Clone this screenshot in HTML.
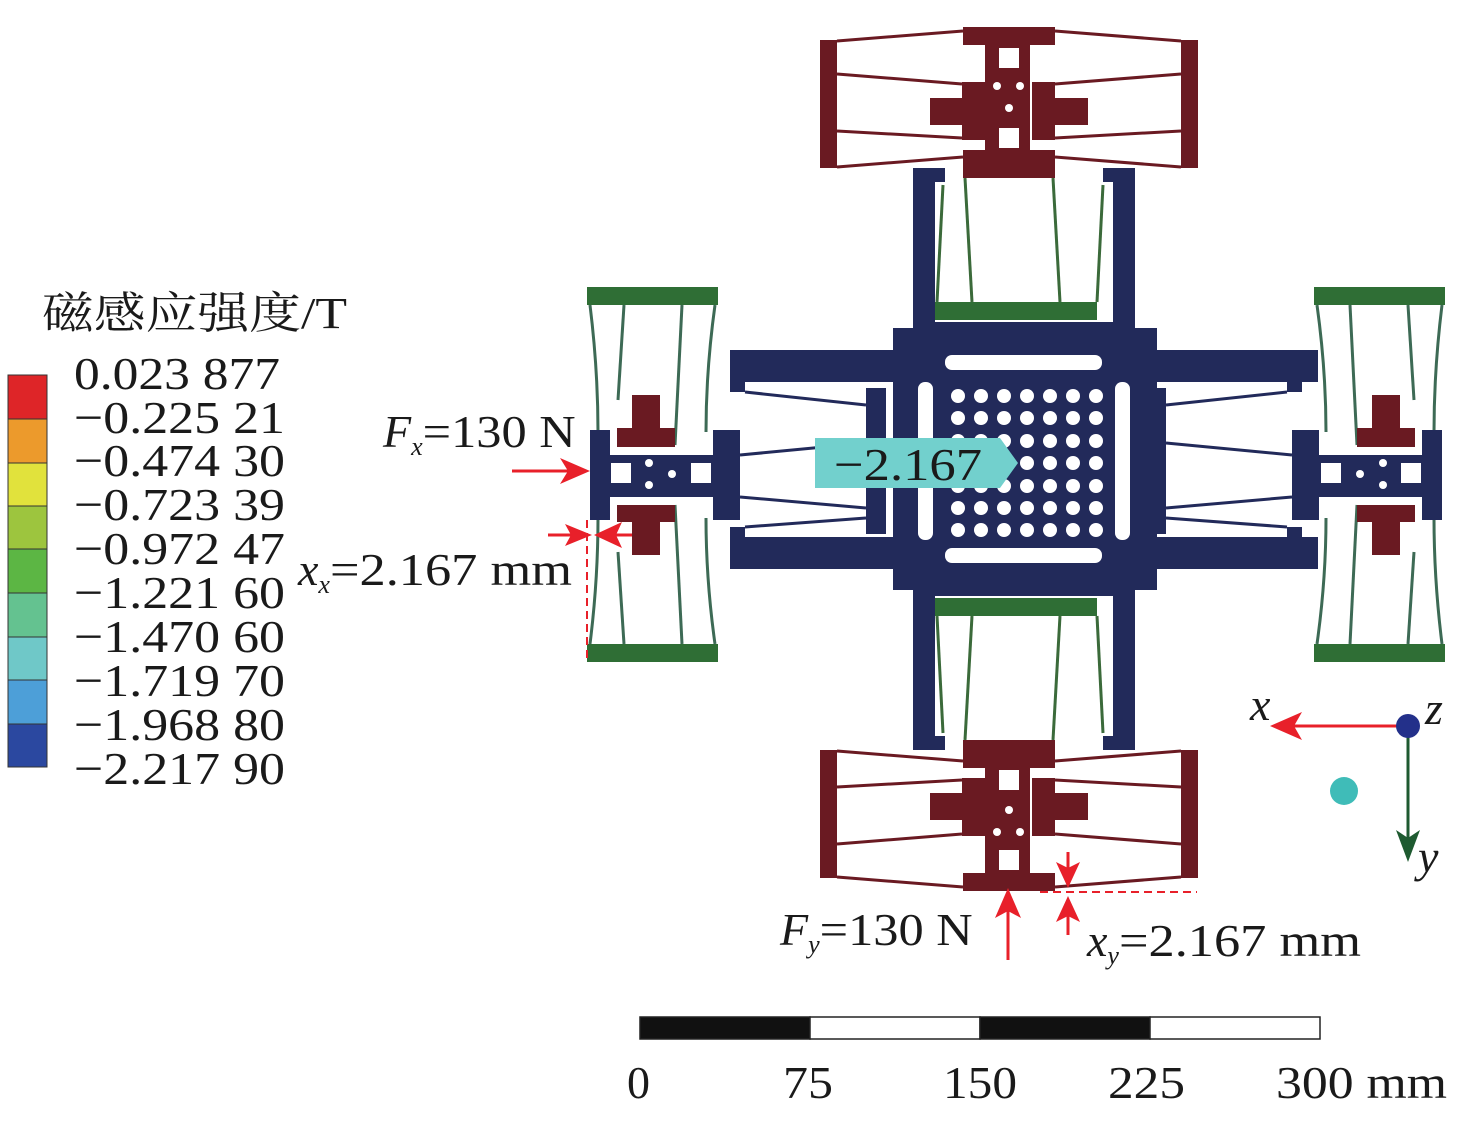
<!DOCTYPE html>
<html><head><meta charset="utf-8"><style>
body{margin:0;background:#fff;}
svg{display:block;}
text{font-family:"Liberation Serif","Noto Serif CJK SC",serif;fill:#1a1a1a;}
</style></head><body>
<svg width="1476" height="1122" viewBox="0 0 1476 1122" xmlns="http://www.w3.org/2000/svg">
<defs>
<g id="topmod">
  <path d="M913 168 H945 V182 H935 V322 H1113 V182 H1103 V168 H1135 V328 H913 Z" fill="#222a5a"/>
  <rect x="935" y="302" width="162" height="18" fill="#2f6e35"/>
  <g stroke="#3b6a3a" stroke-width="3" fill="none">
    <line x1="965" y1="178" x2="972" y2="302"/>
    <line x1="1053" y1="178" x2="1060" y2="302"/>
    <line x1="943" y1="185" x2="937" y2="302"/>
    <line x1="1103" y1="185" x2="1097" y2="302"/>
  </g>
  <g fill="#6a1a22">
    <rect x="820" y="40" width="17" height="128"/>
    <rect x="1181" y="40" width="17" height="128"/>
    <rect x="963" y="27" width="92" height="18"/>
    <rect x="963" y="150" width="92" height="28"/>
    <rect x="985" y="45" width="45" height="105"/>
    <path d="M962 82 H985 V140 H962 V125 H930 V98 H962 Z"/>
    <path d="M1055 82 H1032 V140 H1055 V125 H1088 V98 H1055 Z"/>
  </g>
  <g fill="#fff">
    <rect x="999" y="48" width="20" height="20"/>
    <rect x="999" y="128" width="20" height="20"/>
    <circle cx="997" cy="86" r="4"/><circle cx="1020" cy="86" r="4"/><circle cx="1009" cy="108" r="4"/>
  </g>
  <g stroke="#6a1a22" stroke-width="3" fill="none">
    <line x1="837" y1="41" x2="963" y2="31"/>
    <line x1="837" y1="74" x2="962" y2="84"/>
    <line x1="837" y1="131" x2="962" y2="138"/>
    <line x1="837" y1="167" x2="963" y2="157"/>
    <line x1="1181" y1="41" x2="1055" y2="31"/>
    <line x1="1181" y1="74" x2="1055" y2="84"/>
    <line x1="1181" y1="131" x2="1055" y2="138"/>
    <line x1="1181" y1="167" x2="1055" y2="157"/>
  </g>
</g>
<g id="leftmod">
  <path d="M730 350 H893 V382 H745 V392 H730 Z" fill="#222a5a"/>
  <path d="M730 569 H893 V537 H745 V527 H730 Z" fill="#222a5a"/>
  <rect x="866" y="388" width="20" height="146" fill="#222a5a"/>
  <g stroke="#222a5a" stroke-width="3" fill="none">
    <line x1="745" y1="392" x2="866" y2="405"/>
    <line x1="740" y1="455" x2="866" y2="443"/>
    <line x1="740" y1="497" x2="866" y2="508"/>
    <line x1="745" y1="527" x2="866" y2="518"/>
  </g>
  <rect x="587" y="287" width="131" height="18" fill="#2f6e35"/>
  <rect x="587" y="644" width="131" height="18" fill="#2f6e35"/>
  <g stroke="#3d6a55" stroke-width="3" fill="none">
    <path d="M590 305 Q598 370 598 432"/>
    <path d="M715 305 Q706 370 706 432"/>
    <line x1="624" y1="305" x2="618" y2="400"/>
    <line x1="682" y1="305" x2="675" y2="445"/>
    <path d="M590 644 Q598 580 598 518"/>
    <path d="M715 644 Q706 580 706 518"/>
    <line x1="624" y1="644" x2="618" y2="552"/>
    <line x1="682" y1="644" x2="675" y2="505"/>
  </g>
  <g fill="#222a5a">
    <rect x="590" y="430" width="20" height="90"/>
    <rect x="713" y="430" width="27" height="90"/>
    <rect x="590" y="455" width="150" height="42"/>
  </g>
  <g fill="#fff">
    <rect x="611" y="463" width="20" height="20"/>
    <rect x="691" y="463" width="20" height="20"/>
    <circle cx="649" cy="463" r="4"/><circle cx="649" cy="485" r="4"/><circle cx="672" cy="474" r="4"/>
  </g>
  <path d="M632 395 H660 V428 H675 V447 H617 V428 H632 Z" fill="#6a1a22"/>
  <path d="M617 505 H675 V522 H660 V555 H632 V522 H617 Z" fill="#6a1a22"/>
</g>
</defs>

<rect x="893" y="328" width="264" height="262" fill="#222a5a"/>
<g fill="#222a5a">
  <rect x="1157" y="350" width="161" height="32"/>
  <rect x="1157" y="537" width="161" height="32"/>
</g>
<g fill="#fff">
  <rect x="945" y="355" width="157" height="15" rx="7"/>
  <rect x="945" y="548" width="157" height="15" rx="7"/>
  <rect x="918" y="382" width="15" height="158" rx="7"/>
  <rect x="1115" y="382" width="15" height="158" rx="7"/>
</g>
<g fill="#fff">
  <circle cx="958" cy="396" r="7"/><circle cx="981" cy="396" r="7"/><circle cx="1004" cy="396" r="7"/><circle cx="1027" cy="396" r="7"/><circle cx="1050" cy="396" r="7"/><circle cx="1073" cy="396" r="7"/><circle cx="1096" cy="396" r="7"/>
  <circle cx="958" cy="418" r="7"/><circle cx="981" cy="418" r="7"/><circle cx="1004" cy="418" r="7"/><circle cx="1027" cy="418" r="7"/><circle cx="1050" cy="418" r="7"/><circle cx="1073" cy="418" r="7"/><circle cx="1096" cy="418" r="7"/>
  <circle cx="958" cy="441" r="7"/><circle cx="981" cy="441" r="7"/><circle cx="1004" cy="441" r="7"/><circle cx="1027" cy="441" r="7"/><circle cx="1050" cy="441" r="7"/><circle cx="1073" cy="441" r="7"/><circle cx="1096" cy="441" r="7"/>
  <circle cx="958" cy="463" r="7"/><circle cx="981" cy="463" r="7"/><circle cx="1004" cy="463" r="7"/><circle cx="1027" cy="463" r="7"/><circle cx="1050" cy="463" r="7"/><circle cx="1073" cy="463" r="7"/><circle cx="1096" cy="463" r="7"/>
  <circle cx="958" cy="486" r="7"/><circle cx="981" cy="486" r="7"/><circle cx="1004" cy="486" r="7"/><circle cx="1027" cy="486" r="7"/><circle cx="1050" cy="486" r="7"/><circle cx="1073" cy="486" r="7"/><circle cx="1096" cy="486" r="7"/>
  <circle cx="958" cy="508" r="7"/><circle cx="981" cy="508" r="7"/><circle cx="1004" cy="508" r="7"/><circle cx="1027" cy="508" r="7"/><circle cx="1050" cy="508" r="7"/><circle cx="1073" cy="508" r="7"/><circle cx="1096" cy="508" r="7"/>
  <circle cx="958" cy="530" r="7"/><circle cx="981" cy="530" r="7"/><circle cx="1004" cy="530" r="7"/><circle cx="1027" cy="530" r="7"/><circle cx="1050" cy="530" r="7"/><circle cx="1073" cy="530" r="7"/><circle cx="1096" cy="530" r="7"/>
</g>

<use href="#topmod"/>
<use href="#topmod" transform="translate(0,918) scale(1,-1)"/>
<use href="#leftmod"/>
<use href="#leftmod" transform="translate(2032,0) scale(-1,1)"/>

<path d="M815 438 H1000 L1018 463 L1000 488 H815 Z" fill="#72d0cd"/>
<text x="834" y="480" font-size="46" textLength="148" lengthAdjust="spacingAndGlyphs">−2.167</text>

<text x="42" y="328" font-size="44" textLength="305" lengthAdjust="spacingAndGlyphs">磁感应强度/T</text>
<g stroke="#333" stroke-width="1">
<rect x="8" y="375" width="39" height="44" fill="#de2528"/>
<rect x="8" y="419" width="39" height="44" fill="#ec9a2c"/>
<rect x="8" y="463" width="39" height="43" fill="#e1e23c"/>
<rect x="8" y="506" width="39" height="43" fill="#9dc53e"/>
<rect x="8" y="549" width="39" height="44" fill="#5cb644"/>
<rect x="8" y="593" width="39" height="44" fill="#64c290"/>
<rect x="8" y="637" width="39" height="43" fill="#6fc8c8"/>
<rect x="8" y="680" width="39" height="44" fill="#4d9fd8"/>
<rect x="8" y="724" width="39" height="43" fill="#2b48a0"/>
</g>
<g font-size="46" lengthAdjust="spacingAndGlyphs">
<text x="74" y="389" textLength="206" lengthAdjust="spacingAndGlyphs">0.023 877</text>
<text x="74" y="433" textLength="211" lengthAdjust="spacingAndGlyphs">−0.225 21</text>
<text x="74" y="476" textLength="211" lengthAdjust="spacingAndGlyphs">−0.474 30</text>
<text x="74" y="520" textLength="211" lengthAdjust="spacingAndGlyphs">−0.723 39</text>
<text x="74" y="564" textLength="211" lengthAdjust="spacingAndGlyphs">−0.972 47</text>
<text x="74" y="608" textLength="211" lengthAdjust="spacingAndGlyphs">−1.221 60</text>
<text x="74" y="652" textLength="211" lengthAdjust="spacingAndGlyphs">−1.470 60</text>
<text x="74" y="696" textLength="211" lengthAdjust="spacingAndGlyphs">−1.719 70</text>
<text x="74" y="740" textLength="211" lengthAdjust="spacingAndGlyphs">−1.968 80</text>
<text x="74" y="784" textLength="211" lengthAdjust="spacingAndGlyphs">−2.217 90</text>
</g>

<g font-size="46">
<text x="383" y="447"><tspan font-style="italic">F</tspan><tspan font-style="italic" font-size="26" dy="8">x</tspan><tspan dy="-8" textLength="153" lengthAdjust="spacingAndGlyphs">=130 N</tspan></text>
<text x="298" y="585"><tspan font-style="italic">x</tspan><tspan font-style="italic" font-size="26" dy="8">x</tspan><tspan dy="-8" textLength="242" lengthAdjust="spacingAndGlyphs">=2.167 mm</tspan></text>
<text x="780" y="945"><tspan font-style="italic">F</tspan><tspan font-style="italic" font-size="26" dy="8">y</tspan><tspan dy="-8" textLength="153" lengthAdjust="spacingAndGlyphs">=130 N</tspan></text>
<text x="1087" y="956"><tspan font-style="italic">x</tspan><tspan font-style="italic" font-size="26" dy="8">y</tspan><tspan dy="-8" textLength="242" lengthAdjust="spacingAndGlyphs">=2.167 mm</tspan></text>
</g>
<g stroke="#e8202a" stroke-width="3" fill="#e8202a">
  <line x1="512" y1="471" x2="575" y2="471"/>
  <path d="M590 471 L560 458 L568 471 L560 484 Z" stroke="none"/>
  <line x1="548" y1="535" x2="580" y2="535"/>
  <path d="M592 535 L565 524 L571 535 L565 546 Z" stroke="none"/>
  <line x1="632" y1="535" x2="605" y2="535"/>
  <path d="M594 535 L622 522 L616 535 L622 548 Z" stroke="none"/>
  <line x1="587" y1="520" x2="587" y2="662" stroke-dasharray="8,5" stroke-width="2" fill="none"/>
  <line x1="1008" y1="960" x2="1008" y2="905"/>
  <path d="M1008 888 L995 918 L1008 911 L1021 918 Z" stroke="none"/>
  <line x1="1068" y1="852" x2="1068" y2="872"/>
  <path d="M1068 888 L1056 862 L1068 868 L1080 862 Z" stroke="none"/>
  <line x1="1068" y1="935" x2="1068" y2="912"/>
  <path d="M1068 896 L1056 922 L1068 916 L1080 922 Z" stroke="none"/>
  <line x1="1040" y1="892" x2="1197" y2="892" stroke-dasharray="8,5" stroke-width="2" fill="none"/>
  <line x1="1408" y1="726" x2="1290" y2="726"/>
  <path d="M1270 726 L1302 712 L1294 726 L1302 740 Z" stroke="none"/>
</g>
<g stroke="#1e5a30" stroke-width="3" fill="#1e5a30">
  <line x1="1408" y1="726" x2="1408" y2="842"/>
  <path d="M1408 862 L1396 830 L1408 838 L1420 830 Z" stroke="none"/>
</g>
<circle cx="1408" cy="726" r="12" fill="#23308a"/>
<circle cx="1344" cy="791" r="14" fill="#3fbcb8"/>
<g font-size="46" font-style="italic">
<text x="1250" y="720">x</text>
<text x="1425" y="724">z</text>
<text x="1418" y="872">y</text>
</g>

<g stroke="#222" stroke-width="1.5">
<rect x="640" y="1017" width="170" height="22" fill="#111"/>
<rect x="810" y="1017" width="170" height="22" fill="#fff"/>
<rect x="980" y="1017" width="170" height="22" fill="#111"/>
<rect x="1150" y="1017" width="170" height="22" fill="#fff"/>
</g>
<g font-size="46">
<text x="627" y="1098">0</text>
<text x="783" y="1098" textLength="50" lengthAdjust="spacingAndGlyphs">75</text>
<text x="943" y="1098" textLength="74" lengthAdjust="spacingAndGlyphs">150</text>
<text x="1108" y="1098" textLength="77" lengthAdjust="spacingAndGlyphs">225</text>
<text x="1276" y="1098" textLength="171" lengthAdjust="spacingAndGlyphs">300 mm</text>
</g>
</svg>
</body></html>
